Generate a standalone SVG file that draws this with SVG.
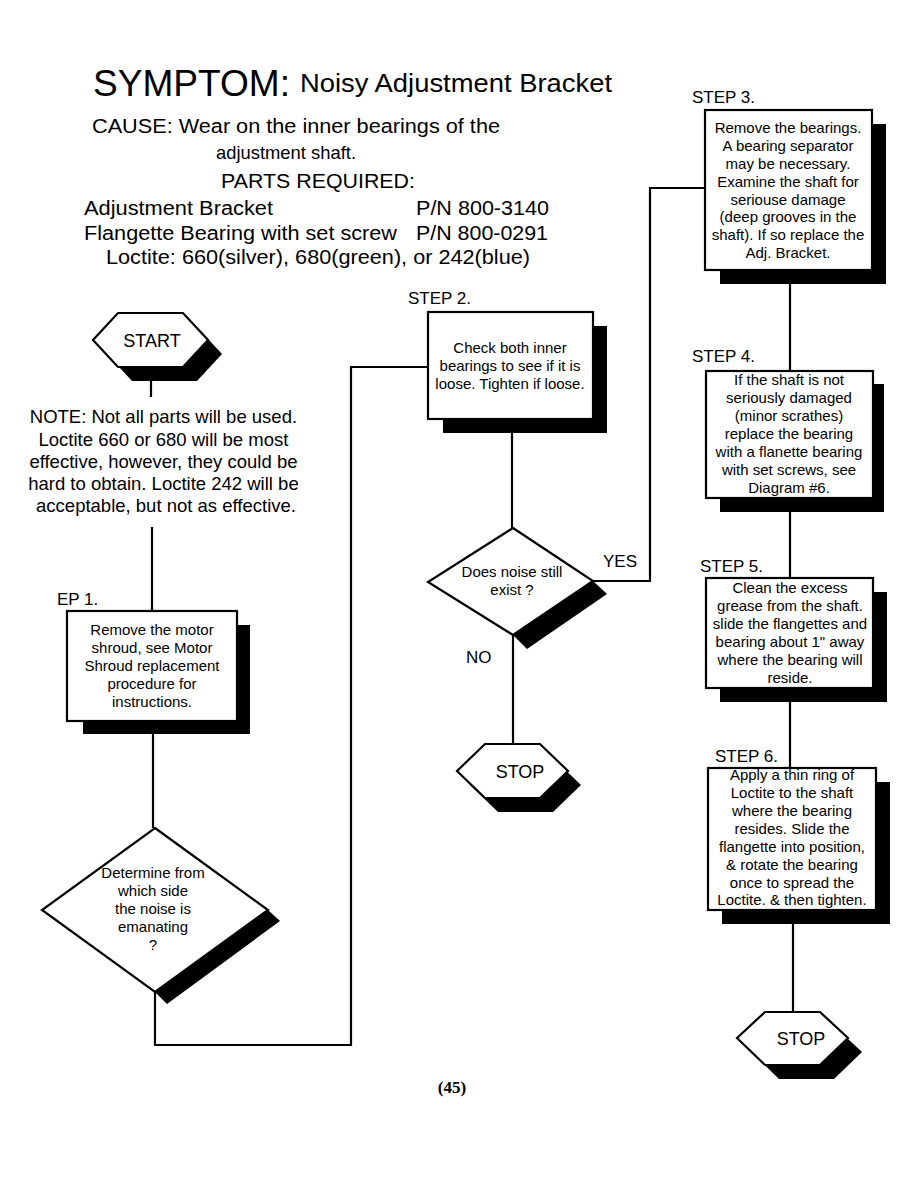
<svg xmlns="http://www.w3.org/2000/svg" width="918" height="1188" viewBox="0 0 918 1188">
<style>
.t{font-family:"Liberation Sans",Arial,sans-serif;fill:#000}
.bt{font-family:"Liberation Sans",Arial,sans-serif;font-size:15px;fill:#000;text-anchor:middle}
.lbl{font-family:"Liberation Sans",Arial,sans-serif;font-size:17px;fill:#000}
.box{fill:#fff;stroke:#000;stroke-width:2.2}
.sh{fill:#000}
.cn{fill:none;stroke:#000;stroke-width:2.2}
</style>
<rect width="918" height="1188" fill="#fff"/>
<g id="header">
<text class="t" x="93" y="96" font-size="36" textLength="197" lengthAdjust="spacingAndGlyphs">SYMPTOM:</text>
<text class="t" x="300" y="92" font-size="26" textLength="312" lengthAdjust="spacingAndGlyphs">Noisy Adjustment Bracket</text>
<text class="t" x="92" y="133" font-size="20" textLength="408" lengthAdjust="spacingAndGlyphs">CAUSE: Wear on the inner bearings of the</text>
<text class="t" x="216" y="159" font-size="19" textLength="140" lengthAdjust="spacingAndGlyphs">adjustment shaft.</text>
<text class="t" x="221" y="188" font-size="20" textLength="194" lengthAdjust="spacingAndGlyphs">PARTS REQUIRED:</text>
<text class="t" x="84" y="215" font-size="20" textLength="189" lengthAdjust="spacingAndGlyphs">Adjustment Bracket</text>
<text class="t" x="416" y="215" font-size="20" textLength="133" lengthAdjust="spacingAndGlyphs">P/N 800-3140</text>
<text class="t" x="84" y="240" font-size="20" textLength="313" lengthAdjust="spacingAndGlyphs">Flangette Bearing with set screw</text>
<text class="t" x="416" y="240" font-size="20" textLength="132" lengthAdjust="spacingAndGlyphs">P/N 800-0291</text>
<text class="t" x="106" y="264" font-size="20" textLength="424" lengthAdjust="spacingAndGlyphs">Loctite: 660(silver), 680(green), or 242(blue)</text>
</g>
<g id="note">
<text class="t" font-size="18.5" text-anchor="middle">
<tspan x="166" y="423">NOTE: Not all parts will be used.</tspan>
<tspan x="166" y="446">Loctite 660 or 680 will be most</tspan>
<tspan x="166" y="468">effective, however, they could be</tspan>
<tspan x="166" y="490">hard to obtain. Loctite 242 will be</tspan>
<tspan x="166" y="512">acceptable, but not as effective.</tspan>
</text>
</g>
<g id="connectors">
<polyline class="cn" points="151,367 151,397"/>
<polyline class="cn" points="152,527 152,610"/>
<polyline class="cn" points="153,722 153,828"/>
<polyline class="cn" points="155,992 155,1045 351,1045 351,367 428,367"/>
<polyline class="cn" points="512,418 512,528"/>
<polyline class="cn" points="593,581 650,581 650,188 705,188"/>
<polyline class="cn" points="513,635 513,744"/>
<polyline class="cn" points="790,270 790,370"/>
<polyline class="cn" points="790,498 790,578"/>
<polyline class="cn" points="790,688 790,768"/>
<polyline class="cn" points="793,910 793,1012"/>
<text class="lbl" x="603" y="567" font-size="18">YES</text>
<text class="lbl" x="466" y="663" font-size="18">NO</text>
</g>
<g id="start">
<polygon class="sh" points="107,354 132,327 197,327 222,354 197,381 132,381"/>
<polygon class="box" points="93,340 118,313 183,313 208,340 183,367 118,367"/>
<text class="t" x="152" y="347" font-size="18" text-anchor="middle">START</text>
</g>
<g id="step1">
<text class="lbl" x="57" y="605">EP 1.</text>
<rect class="sh" x="83" y="625" width="167" height="109"/>
<rect class="box" x="67" y="611" width="170" height="110"/>
<text class="bt"><tspan x="152" y="635">Remove the motor</tspan><tspan x="152" y="653">shroud, see Motor</tspan><tspan x="152" y="671">Shroud replacement</tspan><tspan x="152" y="689">procedure for</tspan><tspan x="152" y="707">instructions.</tspan></text>
</g>
<g id="decision1">
<polygon class="sh" points="268,910 280,921 167,1004 155,992"/>
<polygon class="box" points="155,828 268,910 155,992 42,910"/>
<text class="bt"><tspan x="153" y="878">Determine from</tspan><tspan x="153" y="896">which side</tspan><tspan x="153" y="914">the noise is</tspan><tspan x="153" y="932">emanating</tspan><tspan x="153" y="950">?</tspan></text>
</g>
<g id="step2">
<text class="lbl" x="408" y="304">STEP 2.</text>
<rect class="sh" x="443" y="326" width="164" height="107"/>
<rect class="box" x="428" y="312" width="165" height="107"/>
<text class="bt" font-size="14.5"><tspan x="510" y="353">Check both inner</tspan><tspan x="510" y="371">bearings to see if it is</tspan><tspan x="510" y="389">loose. Tighten if loose.</tspan></text>
</g>
<g id="decision2">
<polygon class="sh" points="593,581 607,594 527,649 513,635"/>
<polygon class="box" points="513,528 593,581 513,635 428,582"/>
<text class="bt" font-size="14"><tspan x="512" y="577">Does noise still</tspan><tspan x="512" y="595">exist ?</tspan></text>
</g>
<g id="stop1">
<polygon class="sh" points="470,785 498,758 553,758 581,785 553,812 498,812"/>
<polygon class="box" points="457,771 485,744 540,744 568,771 540,798 485,798"/>
<text class="t" x="520" y="778" font-size="18" text-anchor="middle">STOP</text>
</g>
<g id="step3">
<text class="lbl" x="692" y="103">STEP 3.</text>
<rect class="sh" x="720" y="124" width="166" height="160"/>
<rect class="box" x="705" y="110" width="167" height="160"/>
<text class="bt"><tspan x="788" y="133">Remove the bearings.</tspan><tspan x="788" y="151">A bearing separator</tspan><tspan x="788" y="169">may be necessary.</tspan><tspan x="788" y="187">Examine the shaft for</tspan><tspan x="788" y="205">seriouse damage</tspan><tspan x="788" y="222">(deep grooves in the</tspan><tspan x="788" y="240">shaft). If so replace the</tspan><tspan x="788" y="258">Adj. Bracket.</tspan></text>
</g>
<g id="step4">
<text class="lbl" x="692" y="362">STEP 4.</text>
<rect class="sh" x="720" y="384" width="164" height="128"/>
<rect class="box" x="706" y="371" width="167" height="127"/>
<text class="bt"><tspan x="789" y="385">If the shaft is not</tspan><tspan x="789" y="403">seriously damaged</tspan><tspan x="789" y="421">(minor scrathes)</tspan><tspan x="789" y="439">replace the bearing</tspan><tspan x="789" y="457">with a flanette bearing</tspan><tspan x="789" y="475">with set screws, see</tspan><tspan x="789" y="493">Diagram #6.</tspan></text>
</g>
<g id="step5">
<text class="lbl" x="700" y="572">STEP 5.</text>
<rect class="sh" x="720" y="592" width="167" height="110"/>
<rect class="box" x="706" y="578" width="167" height="110"/>
<text class="bt"><tspan x="790" y="593">Clean the excess</tspan><tspan x="790" y="611">grease from the shaft.</tspan><tspan x="790" y="629">slide the flangettes and</tspan><tspan x="790" y="647">bearing about 1" away</tspan><tspan x="790" y="665">where the bearing will</tspan><tspan x="790" y="683">reside.</tspan></text>
</g>
<g id="step6">
<text class="lbl" x="715" y="762">STEP 6.</text>
<rect class="sh" x="722" y="782" width="168" height="142"/>
<rect class="box" x="708" y="768" width="168" height="142"/>
<text class="bt"><tspan x="792" y="780">Apply a thin ring of</tspan><tspan x="792" y="798">Loctite to the shaft</tspan><tspan x="792" y="816">where the bearing</tspan><tspan x="792" y="834">resides. Slide the</tspan><tspan x="792" y="852">flangette into position,</tspan><tspan x="792" y="870">&amp; rotate the bearing</tspan><tspan x="792" y="888">once to spread the</tspan><tspan x="792" y="905">Loctite. &amp; then tighten.</tspan></text>
</g>
<g id="stop2">
<polygon class="sh" points="751,1052 779,1026 834,1026 862,1052 834,1079 779,1079"/>
<polygon class="box" points="737,1038 765,1012 820,1012 848,1038 820,1065 765,1065"/>
<text class="t" x="801" y="1045" font-size="18" text-anchor="middle">STOP</text>
</g>
<text x="452" y="1093" font-family="'Liberation Serif','Times New Roman',serif" font-size="17" font-weight="bold" text-anchor="middle">(45)</text>
</svg>
